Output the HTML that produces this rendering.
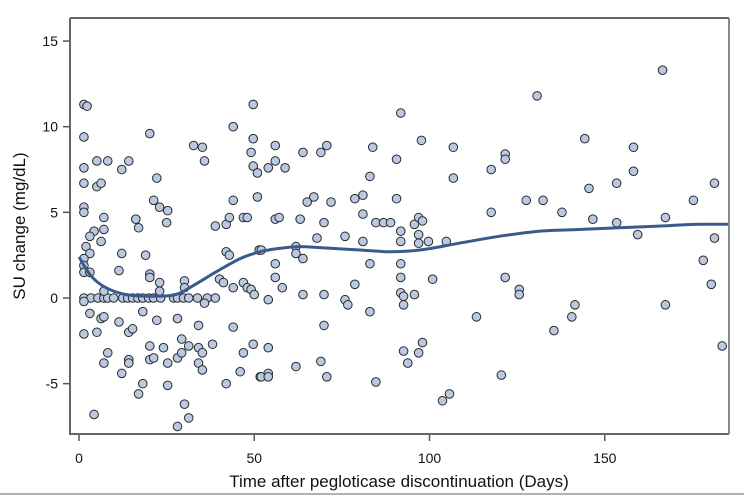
<!DOCTYPE html>
<html><head><meta charset="utf-8"><style>
html,body{margin:0;padding:0;background:#fff;}
svg{display:block;font-family:"Liberation Sans",sans-serif;}
</style></head><body>
<svg id="chart" width="744" height="496" viewBox="0 0 744 496">
<rect x="70" y="18" width="659" height="416" fill="#fff" stroke="none"/>
<g id="marks"></g>
<path id="curve" fill="none" stroke="#3b5a8c" stroke-width="3"/>
<path d="M70,18 H729 M70,18 V434 H729" fill="none" stroke="#666" stroke-width="2"/>
<line x1="729" y1="18" x2="729" y2="434" stroke="#888" stroke-width="2"/>
<g id="xticks"></g>
<g id="yticks"></g>
<text x="399" y="487" text-anchor="middle" font-size="17" fill="#111">Time after pegloticase discontinuation (Days)</text>
<text transform="translate(25,226) rotate(-90)" text-anchor="middle" font-size="17" fill="#111">SU change (mg/dL)</text>
<line x1="0" y1="494" x2="744" y2="494" stroke="#999" stroke-width="1.5"/>
</svg>
<script>
const xTicks=[0,50,100,150];
const yTicks=[-5,0,5,10,15];
const days=[1.4,2.3,1.4,20.2,49.7,44.0,49.7,49.1,49.7,50.9,50.9,32.7,35.2,35.8,1.4,5.1,8.2,12.2,14.2,1.4,5.1,6.3,22.2,21.3,23.0,25.3,25.0,1.4,1.4,44.0,7.1,4.3,7.1,3.1,6.3,16.2,17.0,38.9,42.0,42.9,46.9,48.0,2.0,3.1,1.4,1.4,1.4,3.1,12.2,19.0,51.4,42.0,42.9,11.4,20.2,20.2,23.0,30.1,40.1,41.2,44.0,46.9,48.0,49.1,50.0,
1.4,3.4,5.4,7.1,8.2,9.9,12.5,13.9,15.3,16.8,18.2,19.9,21.3,23.3,27.0,28.1,29.8,31.3,33.8,36.6,38.9,
1.4,7.1,23.0,30.1,3.1,6.3,7.1,18.2,22.2,28.1,35.8,11.4,34.1,44.0,1.4,5.1,14.2,15.3,8.2,7.1,14.2,14.2,20.2,20.2,21.3,24.1,25.3,28.1,29.3,29.3,31.3,34.1,35.2,34.1,35.2,38.1,46.9,49.7,46.0,51.7,12.2,18.2,17.0,25.3,42.0,4.3,30.1,31.3,28.1,
91.8,56.0,56.0,54.0,58.8,63.9,69.0,70.7,83.8,90.6,97.7,106.8,106.8,83.0,65.1,67.0,71.9,78.7,81.0,90.6,56.0,57.1,63.1,69.9,81.0,84.7,86.9,88.9,95.7,96.9,98.0,91.8,91.8,96.9,96.9,99.7,104.8,67.9,75.9,81.0,52.0,61.9,61.9,63.9,56.0,83.0,91.8,56.0,91.8,100.9,58.0,78.7,63.9,69.9,54.0,75.9,76.7,91.8,92.6,95.7,92.6,83.0,113.4,69.9,54.0,92.6,96.9,98.0,93.8,61.9,69.0,52.0,54.0,54.0,70.7,84.7,103.7,105.7,
166.5,130.7,144.3,158.2,121.6,121.6,117.6,158.2,145.5,153.4,181.3,127.6,132.4,175.3,117.6,137.8,146.6,153.4,167.3,159.4,181.3,178.1,121.6,125.6,125.6,180.4,141.5,140.6,167.3,135.5,183.5,120.5];
const values=[11.3,11.2,9.4,9.6,11.3,10.0,9.3,8.5,7.7,7.3,5.9,8.9,8.8,8.0,7.6,8.0,8.0,7.5,8.0,6.7,6.5,6.7,7.0,5.7,5.3,5.1,4.4,5.3,5.0,5.7,4.7,3.9,4.0,3.6,3.3,4.6,4.1,4.2,4.3,4.7,4.7,4.7,3.0,2.6,2.3,1.9,1.5,1.5,2.6,2.5,2.8,2.7,2.5,1.6,1.4,1.2,0.9,1.0,1.1,0.9,0.6,0.9,0.6,0.5,0.2,
0,0,0,0,0,0,0,0,0,0,0,0,0,0,0,0,0,0,0,0,0,
-0.2,0.4,0.4,0.6,-0.9,-1.2,-1.1,-0.8,-1.3,-1.2,-0.3,-1.4,-1.6,-1.7,-2.1,-2.0,-2.0,-1.8,-3.2,-3.8,-3.6,-3.8,-2.8,-3.6,-3.5,-2.9,-3.8,-3.5,-2.4,-3.2,-2.8,-2.9,-3.2,-3.8,-4.2,-2.7,-3.2,-2.7,-4.3,-4.6,-4.4,-5.0,-5.6,-5.1,-5.0,-6.8,-6.2,-7.0,-7.5,
10.8,8.9,8.0,7.6,7.6,8.5,8.5,8.9,8.8,8.1,9.2,8.8,7.0,7.1,5.6,5.9,5.6,5.8,6.0,5.8,4.6,4.7,4.6,4.4,4.9,4.4,4.4,4.4,4.3,4.7,4.5,3.9,3.3,3.7,3.2,3.3,3.3,3.5,3.6,3.3,2.8,3.0,2.6,2.3,2.0,2.0,2.0,1.2,1.2,1.1,0.6,0.8,0.2,0.2,-0.1,-0.1,-0.4,0.3,0.1,0.2,-0.4,-0.8,-1.1,-1.6,-2.9,-3.1,-3.2,-2.6,-3.8,-4.0,-3.7,-4.6,-4.4,-4.6,-4.6,-4.9,-6.0,-5.6,
13.3,11.8,9.3,8.8,8.4,8.1,7.5,7.4,6.4,6.7,6.7,5.7,5.7,5.7,5.0,5.0,4.6,4.4,4.7,3.7,3.5,2.2,1.2,0.5,0.2,0.8,-0.4,-1.1,-0.4,-1.9,-2.8,-4.5];
const curveDays=[0,3.4,7.7,13.4,20.5,27.6,33.2,38.9,46,51.7,57.4,63.1,71.6,80.1,88.6,97.2,108.5,119.9,131.3,142.6,154,165.3,176.7,185.2];
const curveValues=[2.4,1.3,0.6,0.2,0.1,0.2,0.8,1.5,2.3,2.7,2.9,3.0,2.9,2.8,2.7,2.8,3.2,3.6,3.9,4.0,4.1,4.2,4.3,4.3];

const NS="http://www.w3.org/2000/svg";
function xs(d){return 79+d*3.505;}
function ys(v){return 298-v*17.13;}
const marks=document.getElementById('marks');
for(let i=0;i<days.length;i++){
  const c=document.createElementNS(NS,'circle');
  c.setAttribute('cx',xs(days[i]));c.setAttribute('cy',ys(values[i]));c.setAttribute('r',4.3);
  c.setAttribute('fill','#b9c9e2');c.setAttribute('stroke','#2a2a2a');c.setAttribute('stroke-width','1');
  
  
  marks.appendChild(c);
}
const P=curveDays.map((dd,i)=>[xs(dd),ys(curveValues[i])]);
let d='M'+P[0][0].toFixed(1)+','+P[0][1].toFixed(1);
for(let i=0;i<P.length-1;i++){
  const p0=P[Math.max(0,i-1)],p1=P[i],p2=P[i+1],p3=P[Math.min(P.length-1,i+2)];
  const c1x=p1[0]+(p2[0]-p0[0])/6,c1y=p1[1]+(p2[1]-p0[1])/6;
  const c2x=p2[0]-(p3[0]-p1[0])/6,c2y=p2[1]-(p3[1]-p1[1])/6;
  d+='C'+c1x.toFixed(1)+','+c1y.toFixed(1)+' '+c2x.toFixed(1)+','+c2y.toFixed(1)+' '+p2[0].toFixed(1)+','+p2[1].toFixed(1);
}
document.getElementById('curve').setAttribute('d',d);
const xg=document.getElementById('xticks');
xTicks.forEach(t=>{
  const l=document.createElementNS(NS,'line');
  l.setAttribute('x1',xs(t));l.setAttribute('x2',xs(t));l.setAttribute('y1',435);l.setAttribute('y2',441);
  l.setAttribute('stroke','#555');l.setAttribute('stroke-width','1.5');
  
  
  xg.appendChild(l);
  const tx=document.createElementNS(NS,'text');
  tx.setAttribute('x',xs(t));tx.setAttribute('y',463);tx.setAttribute('text-anchor','middle');
  tx.setAttribute('font-size','14');tx.setAttribute('fill','#111');tx.textContent=t;
  
  
  xg.appendChild(tx);
});
const yg=document.getElementById('yticks');
yTicks.forEach(t=>{
  const l=document.createElementNS(NS,'line');
  l.setAttribute('x1',63);l.setAttribute('x2',69);l.setAttribute('y1',ys(t));l.setAttribute('y2',ys(t));
  l.setAttribute('stroke','#555');l.setAttribute('stroke-width','1.5');
  
  
  yg.appendChild(l);
  const tx=document.createElementNS(NS,'text');
  tx.setAttribute('x',58);tx.setAttribute('y',ys(t)+5);tx.setAttribute('text-anchor','end');
  tx.setAttribute('font-size','14');tx.setAttribute('fill','#111');tx.textContent=t;
  
  
  yg.appendChild(tx);
});
</script>
</body></html>
